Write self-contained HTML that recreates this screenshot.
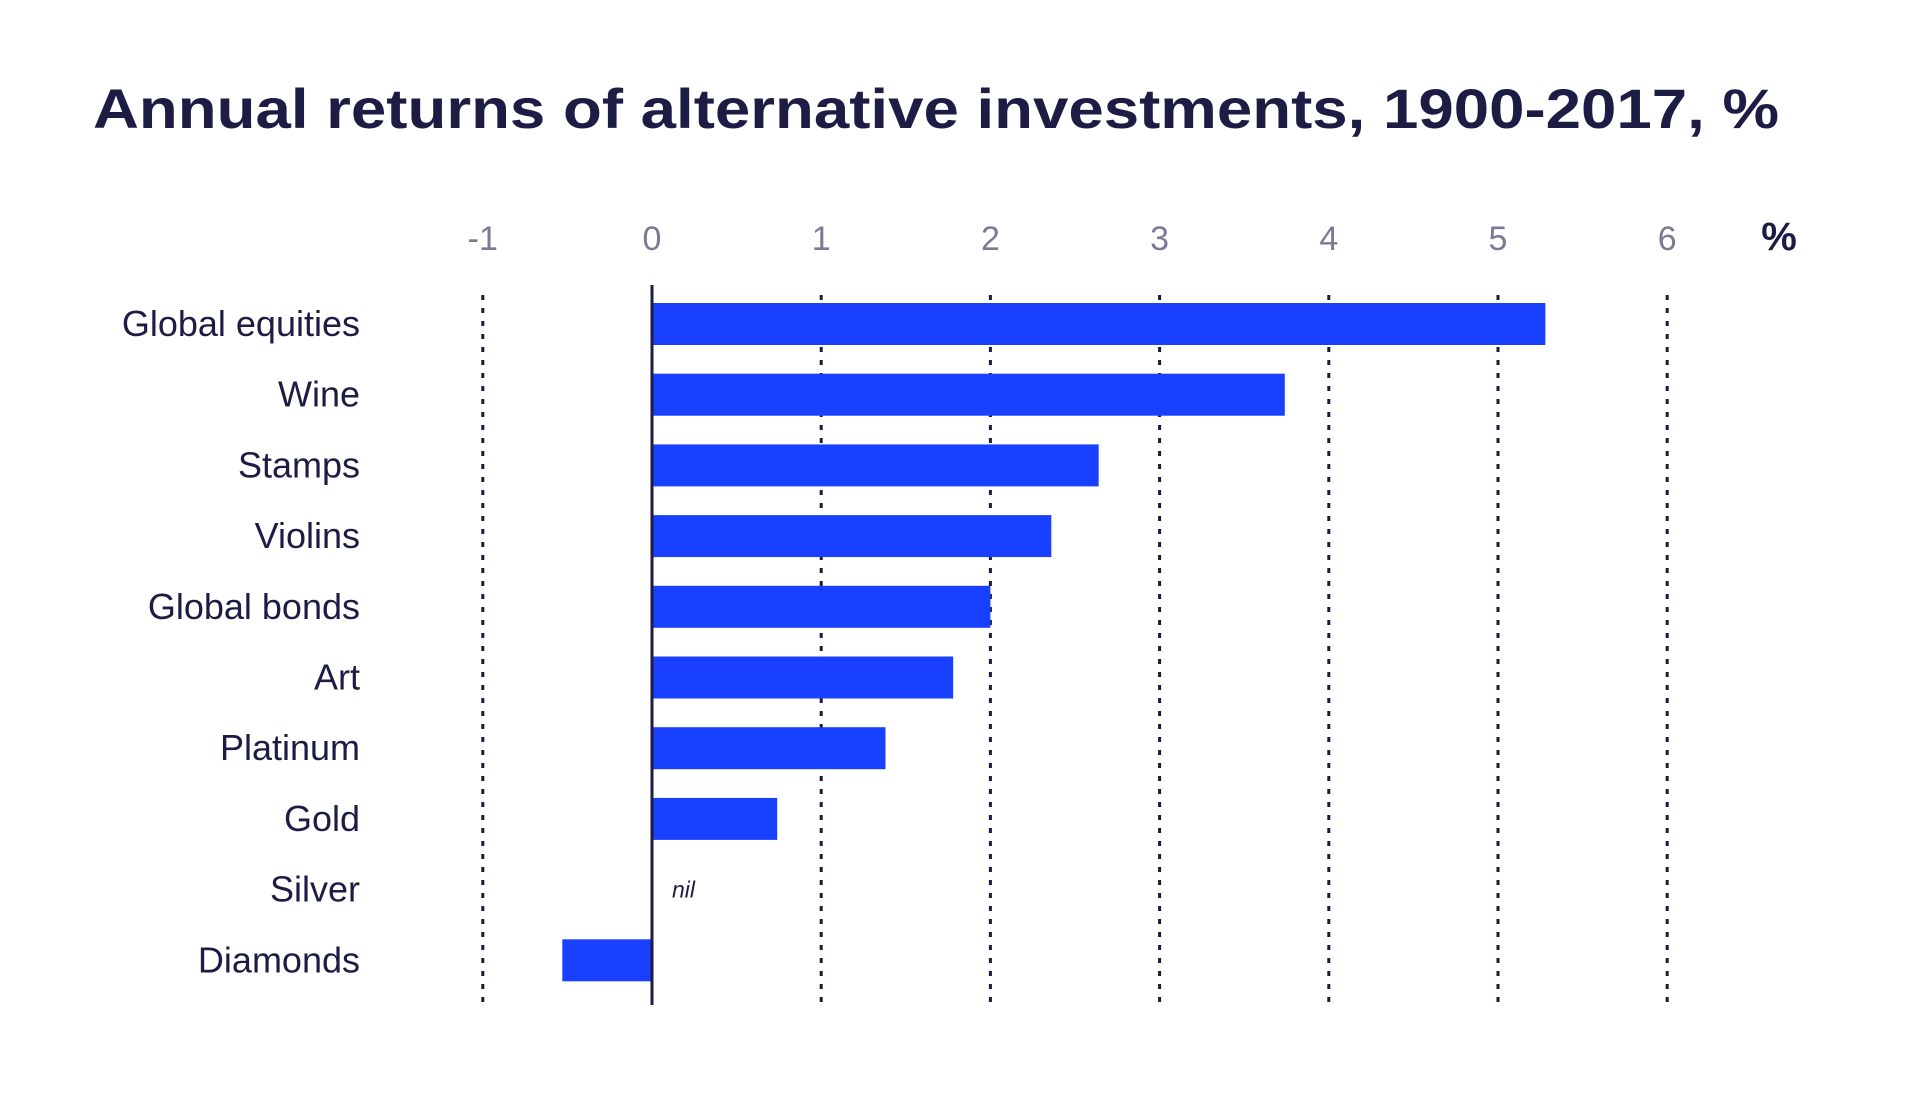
<!DOCTYPE html>
<html><head><meta charset="utf-8"><style>
html,body{margin:0;padding:0;background:#fff;}
svg{display:block;font-family:"Liberation Sans",sans-serif;}
</style></head><body>
<svg width="1921" height="1100" viewBox="0 0 1921 1100">
<text x="93" y="128" font-size="56" font-weight="bold" fill="#1c1c45" textLength="1686" lengthAdjust="spacingAndGlyphs">Annual returns of alternative investments, 1900-2017, %</text>
<g id="grid"></g>
<g id="bars"></g>
<g id="labels"></g>
<g id="ticks"></g>
</svg>
<script>
const categories=["Global equities","Wine","Stamps","Violins","Global bonds","Art","Platinum","Gold","Silver","Diamonds"];
const values=[5.28,3.74,2.64,2.36,2.0,1.78,1.38,0.74,0,-0.53];
const tickValues=[-1,0,1,2,3,4,5,6];
const tickLabels=["-1","0","1","2","3","4","5","6"];
const NS="http://www.w3.org/2000/svg";
const x0=652,unit=169.2,rowTop=303,rowStep=70.7,barH=42;
function xs(v){return x0+v*unit;}
function yc(i){return rowTop+barH/2+i*rowStep;}
function mk(t,a,p){const e=document.createElementNS(NS,t);for(const k in a)e.setAttribute(k,a[k]);p.appendChild(e);return e;}
const grid=document.getElementById('grid'),bars=document.getElementById('bars'),labels=document.getElementById('labels'),ticks=document.getElementById('ticks');
tickValues.forEach((v,i)=>{
  if(v!==0){
    const g=mk('line',{x1:xs(v),x2:xs(v),y1:295,y2:1005,stroke:'#1a1a40','stroke-width':3,'stroke-dasharray':'5 8'},grid);
    
    
  }
  const t=mk('text',{x:xs(v),y:250,'font-size':34,fill:'#7a7a96','text-anchor':'middle'},ticks);
  t.textContent=tickLabels[i];
  
  
});
const pct=mk('text',{x:1779,y:250,'font-size':40,'font-weight':'bold',fill:'#1c1c45','text-anchor':'middle'},ticks);
pct.textContent='%';


categories.forEach((c,i)=>{
  const v=values[i];
  if(v!==0){
    const r=mk('rect',{x:Math.min(xs(0),xs(v)),y:yc(i)-barH/2,width:Math.abs(xs(v)-xs(0)),height:barH,fill:'#1a40ff'},bars);
    
    
  } else {
    const n=mk('text',{x:xs(0)+20,y:yc(i)+8,'font-size':23,'font-style':'italic',fill:'#1c1c45'},bars);
    n.textContent='nil';
    
    
  }
  const l=mk('text',{x:360,y:yc(i)+12,'font-size':36,fill:'#1c1c45','text-anchor':'end'},labels);
  l.textContent=c;
  
  
});
const z=mk('line',{x1:xs(0),x2:xs(0),y1:285,y2:1005,stroke:'#1c1c45','stroke-width':3},bars);


</script>
</body></html>
